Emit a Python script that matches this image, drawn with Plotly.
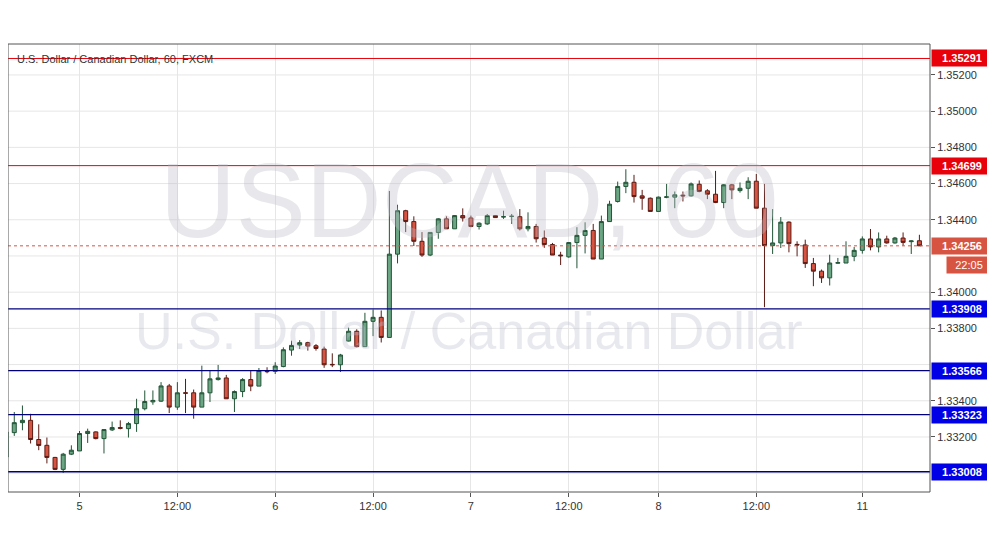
import plotly.graph_objects as go

opens = [1.33089,1.33224,1.33279,1.33292,1.33186,1.33154,1.33087,1.33021,1.33105,1.33123,1.33219,1.33228,1.33191,1.33239,1.33252,1.33246,1.33274,1.33356,1.33394,1.33398,1.33482,1.33365,1.33444,1.33444,1.33365,1.33444,1.33517,1.33526,1.33411,1.33451,1.33517,1.33481,1.33563,1.33563,1.33589,1.33680,1.33708,1.33721,1.33704,
 1.33686,1.33601,1.33599,1.33730,1.33784,1.33699,1.33839,1.33861,1.33750,1.34210,1.34450,1.34390,1.34281,1.34205,1.34330,1.34405,1.34350,1.34423,1.34410,1.34363,1.34377,1.34423,1.34415,1.34419,1.34417,1.34350,1.34363,1.34299,1.34263,1.34205,1.34195,1.34274,1.34314,1.34341,1.34183,1.34390,
 1.34501,1.34584,1.34607,1.34532,1.34519,1.34446,1.34523,1.34525,1.34536,1.34532,1.34596,1.34560,1.34541,1.34495,1.34593,1.34561,1.34574,1.34613,1.34464,1.34257,1.34272,1.34387,1.34264,1.34261,1.34158,1.34116,1.34079,1.34160,1.34161,1.34198,1.34231,1.34294,1.34250,1.34294,1.34272,1.34299,1.34279,1.34284]
closes = [1.33228,1.33279,1.33292,1.33186,1.33153,1.33087,1.33021,1.33105,1.33127,1.33219,1.33231,1.33191,1.33241,1.33252,1.33248,1.33274,1.33356,1.33396,1.33402,1.33482,1.33365,1.33444,1.33442,1.33365,1.33444,1.33521,1.33526,1.33411,1.33451,1.33517,1.33481,1.33567,1.33561,1.33592,1.33682,1.33706,1.33721,1.33702,1.33689,
 1.33599,1.33599,1.33653,1.33784,1.33699,1.33839,1.33861,1.33750,1.34210,1.34450,1.34390,1.34281,1.34205,1.34330,1.34405,1.34350,1.34423,1.34410,1.34363,1.34381,1.34423,1.34412,1.34417,1.34419,1.34350,1.34363,1.34295,1.34263,1.34205,1.34201,1.34274,1.34314,1.34341,1.34183,1.34390,1.34486,
 1.34584,1.34607,1.34528,1.34519,1.34446,1.34525,1.34527,1.34538,1.34532,1.34598,1.34556,1.34541,1.34495,1.34593,1.34565,1.34574,1.34613,1.34464,1.34257,1.34272,1.34387,1.34268,1.34261,1.34158,1.34116,1.34079,1.34161,1.34163,1.34198,1.34231,1.34294,1.34250,1.34294,1.34272,1.34299,1.34275,1.34283,1.34256]
highs = [1.33240,1.33338,1.33374,1.33328,1.33270,1.33197,1.33090,1.33112,1.33154,1.33233,1.33246,1.33231,1.33241,1.33285,1.33292,1.33283,1.33411,1.33457,1.33457,1.33503,1.33493,1.33503,1.33521,1.33462,1.33594,1.33567,1.33598,1.33543,1.33457,1.33525,1.33567,1.33581,1.33585,1.33613,1.33695,1.33732,1.33735,1.33726,1.33713,
 1.33699,1.33662,1.33659,1.33804,1.33795,1.33886,1.33904,1.33899,1.34559,1.34483,1.34455,1.34419,1.34332,1.34330,1.34408,1.34419,1.34426,1.34463,1.34423,1.34386,1.34432,1.34426,1.34450,1.34432,1.34459,1.34441,1.34377,1.34341,1.34272,1.34223,1.34277,1.34359,1.34386,1.34377,1.34423,1.34505,
 1.34611,1.34679,1.34648,1.34565,1.34523,1.34528,1.34598,1.34556,1.34556,1.34606,1.34617,1.34569,1.34670,1.34596,1.34598,1.34606,1.34635,1.34653,1.34598,1.34459,1.34415,1.34391,1.34281,1.34290,1.34189,1.34125,1.34207,1.34189,1.34281,1.34250,1.34308,1.34349,1.34330,1.34312,1.34305,1.34330,1.34286,1.34317]
lows = [1.33080,1.33206,1.33237,1.33164,1.33127,1.33054,1.33017,1.33002,1.33100,1.33123,1.33167,1.33187,1.33109,1.33233,1.33242,1.33197,1.33228,1.33347,1.33378,1.33393,1.33332,1.33350,1.33332,1.33301,1.33365,1.33393,1.33512,1.33411,1.33338,1.33420,1.33453,1.33481,1.33552,1.33548,1.33585,1.33649,1.33686,1.33677,1.33677,
 1.33582,1.33586,1.33559,1.33728,1.33695,1.33699,1.33757,1.33722,1.33750,1.34159,1.34332,1.34255,1.34195,1.34199,1.34295,1.34350,1.34350,1.34390,1.34359,1.34346,1.34372,1.34410,1.34405,1.34377,1.34341,1.34336,1.34274,1.34245,1.34205,1.34150,1.34190,1.34132,1.34214,1.34183,1.34183,1.34390,
 1.34495,1.34547,1.34495,1.34455,1.34446,1.34446,1.34519,1.34464,1.34501,1.34528,1.34552,1.34514,1.34492,1.34464,1.34514,1.34550,1.34514,1.34464,1.33917,1.34211,1.34244,1.34220,1.34198,1.34134,1.34033,1.34051,1.34037,1.34158,1.34161,1.34171,1.34213,1.34231,1.34220,1.34268,1.34268,1.34257,1.34211,1.34257]

tick_pos = [9, 21, 33, 45, 57, 69, 80, 92, 105]
tick_text = ["5", "12:00", "6", "12:00", "7", "12:00", "8", "12:00", "11"]
price_ticks = [1.332, 1.334, 1.338, 1.340, 1.344, 1.346, 1.348, 1.350, 1.352]
grid_ticks = [1.330, 1.332, 1.334, 1.336, 1.338, 1.340, 1.342, 1.344, 1.346, 1.348, 1.350, 1.352]
red_levels = [1.35291, 1.34699]
blue_levels = [1.33908, 1.33566, 1.33323, 1.33008]
last_price = 1.34256
countdown = "22:05"
title = "U.S. Dollar / Canadian Dollar, 60, FXCM"

x = list(range(len(opens)))
fig = go.Figure(go.Candlestick(
    x=x, open=opens, high=highs, low=lows, close=closes,
    increasing=dict(fillcolor="#6BA583", line=dict(color="#225437", width=1)),
    decreasing=dict(fillcolor="#D75442", line=dict(color="#5B1A13", width=1)),
    whiskerwidth=0, showlegend=False, hoverinfo="skip"))

shapes = []
for v in grid_ticks:
    shapes.append(dict(type="line", xref="paper", x0=0, x1=1, y0=v, y1=v, layer="below", line=dict(color="#E6E6E6", width=1)))
for v in red_levels:
    shapes.append(dict(type="line", xref="paper", x0=0, x1=1, y0=v, y1=v, line=dict(color="#E8000B", width=1)))
for v in blue_levels:
    shapes.append(dict(type="line", xref="paper", x0=0, x1=1, y0=v, y1=v, line=dict(color="#00007F", width=1.3)))
shapes.append(dict(type="line", xref="paper", x0=0, x1=1, y0=last_price, y1=last_price, line=dict(color="#D75442", width=1, dash="dot")))
shapes.append(dict(type="rect", xref="paper", yref="paper", x0=0, x1=1, y0=0, y1=1, line=dict(color="#555", width=1)))

ann = []
def box(v, txt, bg):
    ann.append(dict(x=1, xref="paper", y=v, yref="y", xanchor="left", text="<b>"+txt+"</b>", showarrow=False,
                    bgcolor=bg, font=dict(color="white", size=11, family="Arial"), borderpad=2, xshift=1, width=56))
for v in red_levels:
    box(v, f"{v:.5f}", "#E8000B")
for v in blue_levels:
    box(v, f"{v:.5f}", "#0000E6")
box(last_price, f"{last_price:.5f}", "#D75442")
ann.append(dict(x=1, xref="paper", y=last_price, yref="y", xanchor="left", text=countdown, showarrow=False,
                bgcolor="#D75442", font=dict(color="white", size=11, family="Arial"), borderpad=2, xshift=16, yshift=-19, width=40))
ann.append(dict(x=0.008, xref="paper", y=0.985, yref="paper", xanchor="left", yanchor="top", text=title, showarrow=False,
                font=dict(color="#333", size=11, family="Arial")))
ann.append(dict(x=0.5, xref="paper", y=0.65, yref="paper", text="USDCAD, 60", showarrow=False,
                font=dict(color="rgba(190,190,200,0.35)", size=105, family="Arial")))
ann.append(dict(x=0.5, xref="paper", y=0.36, yref="paper", text="U.S. Dollar / Canadian Dollar", showarrow=False,
                font=dict(color="rgba(190,190,210,0.35)", size=52, family="Arial")))

fig.update_layout(
    width=987, height=548, margin=dict(l=0, r=65, t=36, b=64),
    paper_bgcolor="white", plot_bgcolor="white",
    shapes=shapes, annotations=ann,
    xaxis=dict(range=[0.23, 113.3], tickvals=tick_pos, ticktext=tick_text, rangeslider=dict(visible=False),
               showgrid=True, gridcolor="#E6E6E6", zeroline=False, tickfont=dict(size=11, color="#333", family="Arial"),
               ticks="outside", ticklen=4, tickcolor="#555", automargin=False),
    yaxis=dict(side="right", range=[1.32896, 1.35371], tickvals=price_ticks, tickformat=".5f",
               showgrid=False, zeroline=False, ticks="outside", ticklen=4, tickcolor="#555",
               tickfont=dict(size=11, color="#333", family="Arial"), automargin=False),
)
fig.write_html("out.html")
